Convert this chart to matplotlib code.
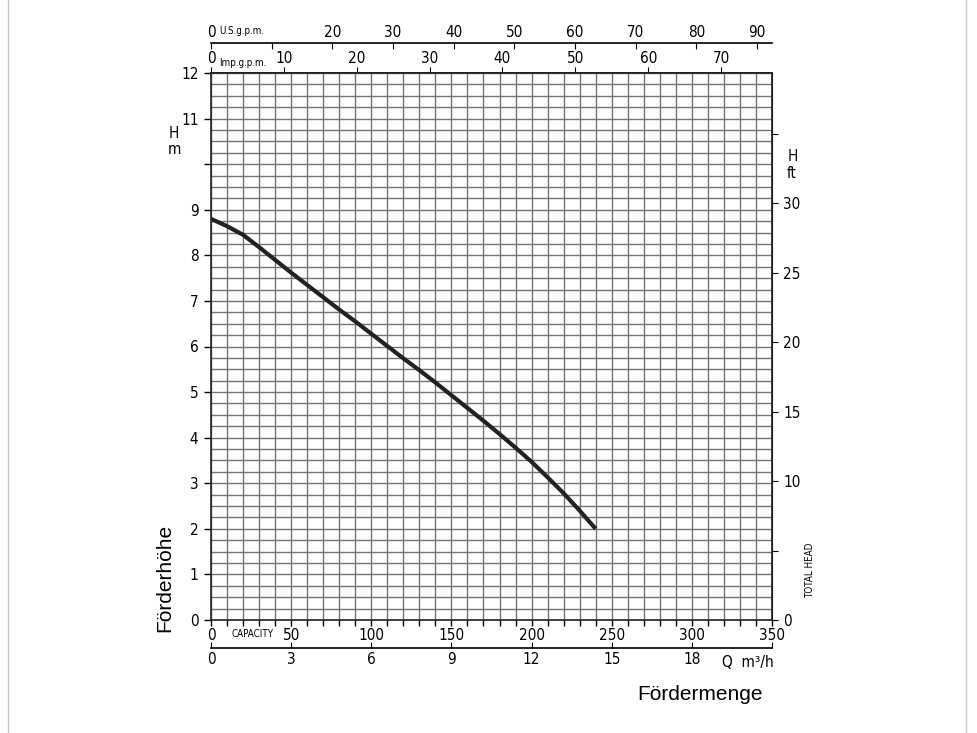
import matplotlib
matplotlib.use('Agg')
import matplotlib.pyplot as plt
from matplotlib.lines import Line2D

# pump curve: capacity in l/min, head in m
flow_lpm = [0, 10, 20, 30, 40, 50, 60, 70, 80, 90, 100, 110, 120,
            130, 140, 150, 160, 170, 180, 190, 200, 210, 220, 230, 240]
head_m = [8.80, 8.64, 8.45, 8.18, 7.90, 7.62, 7.35, 7.08, 6.81, 6.55, 6.28, 6.01, 5.74,
          5.48, 5.21, 4.93, 4.65, 4.37, 4.08, 3.78, 3.47, 3.13, 2.78, 2.40, 2.00]

head_ticks = list(range(0, 13))
head_labels = [str(v) if v != 10 else '' for v in head_ticks]
ft_ticks = [0, 5, 10, 15, 20, 25, 30, 35]
ft_labels = ['0', '', '10', '15', '20', '25', '30', '']
lpm_ticks = [0, 50, 100, 150, 200, 250, 300, 350]
m3h_ticks = [0, 3, 6, 9, 12, 15, 18, 21]
m3h_labels = ['0', '3', '6', '9', '12', '15', '18', '']
usg_ticks = [0, 10, 20, 30, 40, 50, 60, 70, 80, 90]
usg_labels = ['0', '', '20', '30', '40', '50', '60', '70', '80', '90']
impg_ticks = [0, 10, 20, 30, 40, 50, 60, 70]

US_GAL = 3.785
IMP_GAL = 4.546
FT = 0.3048

plt.rcParams['font.family'] = ['DejaVu Sans']
plt.rcParams['font.stretch'] = 'condensed'
FS = 11

fig = plt.figure(figsize=(9.77, 7.33), dpi=100)
ax = fig.add_axes([211/977, 1-620/733, 561/977, 547/733])

# outer light frame of the image
fig.add_artist(Line2D([8/977, 8/977], [0, 1], color='#c8c8c8', lw=1))
fig.add_artist(Line2D([966/977, 966/977], [0, 1], color='#c8c8c8', lw=1))

ax.set_xlim(0, 350)
ax.set_ylim(0, 12)
ax.set_xticks(lpm_ticks)
ax.set_xticks(range(0, 351, 10), minor=True)
ax.set_xticklabels([str(v) for v in lpm_ticks])
ax.set_yticks(head_ticks)
ax.set_yticklabels(head_labels)
ax.set_yticks([i * 0.25 for i in range(49)], minor=True)
ax.grid(True, which='both', color='#747474', lw=1.0)
ax.set_axisbelow(True)
ax.tick_params(axis='x', which='both', direction='out', length=4, width=1,
               labelsize=FS, pad=2, top=False)
ax.tick_params(axis='y', which='major', direction='out', length=5, width=1,
               labelsize=FS, pad=4, right=False)
ax.tick_params(axis='y', which='minor', length=0)
for s in ax.spines.values():
    s.set_color('#222222')
    s.set_linewidth(1.2)

ax.plot(flow_lpm, head_m, color='#222222', lw=3, solid_capstyle='butt',
        solid_joinstyle='round', zorder=5)

# top axis: imperial gallons per minute
imp = ax.secondary_xaxis('top', functions=(lambda q: q / IMP_GAL, lambda g: g * IMP_GAL))
imp.set_xticks(impg_ticks)
imp.set_xticklabels([str(v) for v in impg_ticks])
imp.tick_params(direction='out', length=4, labelsize=FS, pad=1)
imp.spines['top'].set_linewidth(1.2)

# upper axis: US gallons per minute
usg = ax.secondary_xaxis(1.0 + 30/547, functions=(lambda q: q / US_GAL, lambda g: g * US_GAL))
usg.set_xticks(usg_ticks)
usg.set_xticklabels(usg_labels)
usg.tick_params(direction='in', length=4, labelsize=FS, pad=2)
usg.spines['top'].set_linewidth(1.2)

# lower axis: cubic metres per hour
m3h = ax.secondary_xaxis(-28/547, functions=(lambda q: q * 0.06, lambda v: v / 0.06))
m3h.set_xticks(m3h_ticks)
m3h.set_xticklabels(m3h_labels)
m3h.tick_params(direction='in', length=4, labelsize=FS, pad=3)
m3h.spines['bottom'].set_linewidth(1.2)

# right axis: feet
ft = ax.secondary_yaxis('right', functions=(lambda h: h / FT, lambda f: f * FT))
ft.set_yticks(ft_ticks)
ft.set_yticklabels(ft_labels)
ft.tick_params(direction='out', length=4, labelsize=FS, pad=4)

small = dict(fontsize=7)
ax.text(26, -0.3, 'CAPACITY', ha='center', va='center', **small)
ax.text(5, 12.22, 'Imp.g.p.m.', ha='left', va='center', **small)
ax.text(5, 12.93, 'U.S.g.p.m.', ha='left', va='center', **small)
ax.text(335, -0.93, 'Q  m³/h', ha='center', va='center', fontsize=FS)
ax.text(-23, 10.68, 'H', ha='center', va='center', fontsize=FS)
ax.text(-23, 10.32, 'm', ha='center', va='center', fontsize=FS)
ax.text(363, 10.16, 'H', ha='center', va='center', fontsize=FS)
ax.text(362, 9.80, 'ft', ha='center', va='center', fontsize=FS)
ax.text(374, 1.1, 'TOTAL HEAD', rotation=90, ha='center', va='center', **small)

fig.text(165/977, 1-578/733, 'Förderhöhe', rotation=90, ha='center', va='center',
         fontsize=15, family='Liberation Sans', stretch='normal')
fig.text(700/977, 1-694/733, 'Fördermenge', ha='center', va='center',
         fontsize=15, family='Liberation Sans', stretch='normal')

fig.savefig('out.png', dpi=100)
